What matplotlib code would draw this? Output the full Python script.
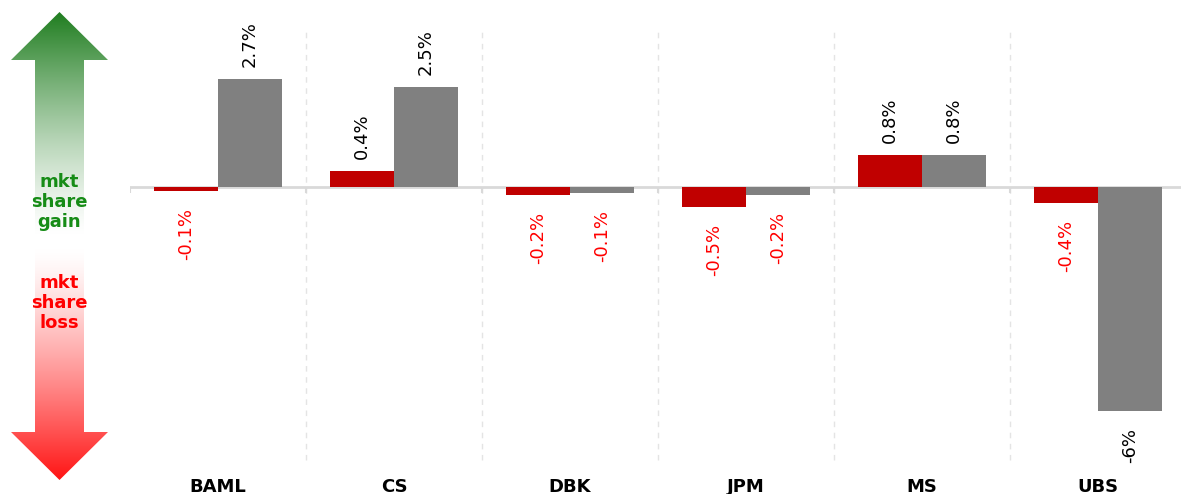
import numpy as np
import matplotlib
matplotlib.use("Agg")
import matplotlib.pyplot as plt
from matplotlib.patches import Polygon
from matplotlib.transforms import blended_transform_factory

# data
banks = ["BAML", "CS", "DBK", "JPM", "MS", "UBS"]
red_vals = [-0.1, 0.4, -0.2, -0.5, 0.8, -0.4]
gray_vals = [2.7, 2.5, -0.15, -0.2, 0.8, -5.6]
red_labels = ["-0.1%", "0.4%", "-0.2%", "-0.5%", "0.8%", "-0.4%"]
gray_labels = ["2.7%", "2.5%", "-0.1%", "-0.2%", "0.8%", "-6%"]
red_label_colors = ["#ff0000", "black", "#ff0000", "#ff0000", "black", "#ff0000"]
gray_label_colors = ["black", "black", "#ff0000", "#ff0000", "black", "black"]

W, H = 1181, 494
fig = plt.figure(figsize=(W / 100, H / 100), dpi=100)

# background axes in pixel coordinates for the gain/loss arrow
bg = fig.add_axes([0, 0, 1, 1])
bg.set_xlim(0, W)
bg.set_ylim(H, 0)
bg.axis("off")

arrow = Polygon([(59.5, 12), (108, 60), (84, 60), (84, 432), (108, 432),
                 (59.5, 480), (11, 432), (35, 432), (35, 60), (11, 60)],
                closed=True, facecolor="none", edgecolor="none")
bg.add_patch(arrow)

ys = np.arange(12, 481)
green = np.array([31, 125, 31]) / 255
red = np.array([255, 20, 20]) / 255
white = np.ones(3)
cols = []
for y in ys:
    if y < 235:
        t = ((235 - y) / (235 - 12)) ** 1.3
        c = white * (1 - t) + green * t
    elif y < 250:
        c = white
    else:
        t = ((y - 250) / (480 - 250)) ** 1.3
        c = white * (1 - t) + red * t
    cols.append(c)
grad = np.array(cols)[:, None, :]
im = bg.imshow(grad, extent=[11, 108, 480, 12], aspect="auto", interpolation="bilinear")
im.set_clip_path(arrow)

bg.text(59, 202, "mkt\nshare\ngain", color="#168c16", fontsize=13, fontweight="bold",
        ha="center", va="center", linespacing=1.15)
bg.text(59, 303, "mkt\nshare\nloss", color="#ff0000", fontsize=13, fontweight="bold",
        ha="center", va="center", linespacing=1.15)

# main chart
px_per_unit = 40.0
zero_px = 187
right_px = 1186
ax = fig.add_axes([130 / W, 0, (right_px - 130) / W, 1])
ax.set_xlim(-0.5, len(banks) - 0.5)
ax.set_ylim(-(H - zero_px) / px_per_unit, zero_px / px_per_unit)
ax.axis("off")

x = np.arange(len(banks))
bw = 0.365
ax.bar(x - bw / 2, red_vals, width=bw, color="#c00000", zorder=3)
ax.bar(x + bw / 2, gray_vals, width=bw, color="#808080", zorder=3)

# dashed separators and baseline
bounds = np.arange(0.5, len(banks) - 0.5)
ax.vlines(bounds, -(460 - zero_px) / px_per_unit, (zero_px - 30) / px_per_unit,
          colors="#e4e4e4", linestyles=(0, (4, 4)), linewidth=1, zorder=1)
ax.axhline(0, color="#d9d9d9", linewidth=2, zorder=2)
ax.vlines(np.r_[-0.5, bounds], -0.15, 0, colors="#d9d9d9", linewidth=1.5, zorder=2)

pos_off = 12 / px_per_unit
neg_off = 17 / px_per_unit
for xs, vals, labs, lcols in [(x - bw / 2, red_vals, red_labels, red_label_colors),
                              (x + bw / 2, gray_vals, gray_labels, gray_label_colors)]:
    for xi, v, lab, lc in zip(xs, vals, labs, lcols):
        if v >= 0:
            ax.text(xi, v + pos_off, lab, rotation=90, ha="center", va="bottom",
                    color=lc, fontsize=13)
        else:
            ax.text(xi, v - neg_off, lab, rotation=90, ha="center", va="top",
                    color=lc, fontsize=13)

trans = blended_transform_factory(ax.transData, ax.transAxes)
for xi, b in zip(x, banks):
    ax.text(xi, (H - 478) / H, b, transform=trans, ha="center", va="top",
            fontsize=13, fontweight="bold", color="black")

fig.savefig("out.png", dpi=100)
